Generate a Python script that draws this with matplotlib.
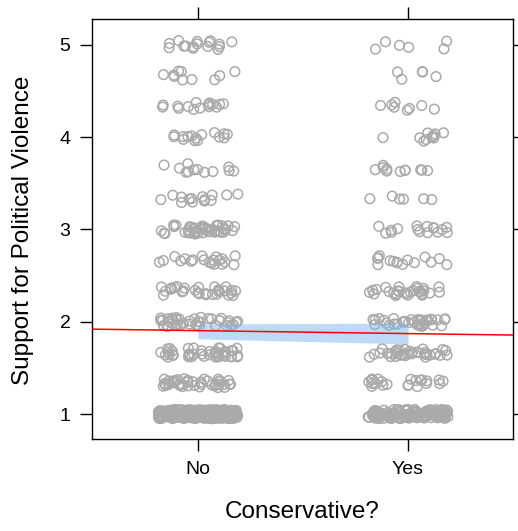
import numpy as np
import matplotlib
matplotlib.use("Agg")
import matplotlib.pyplot as plt

plt.rcParams['font.family'] = ['Liberation Sans', 'DejaVu Sans']

# response levels (scale averaged over three items) and how many respondents sit at each
levels = [1, 4/3, 5/3, 2, 7/3, 8/3, 3, 10/3, 11/3, 4, 13/3, 14/3, 5]
counts_no = [250, 40, 45, 40, 30, 20, 45, 14, 12, 15, 15, 10, 16]
counts_yes = [130, 22, 35, 35, 28, 15, 16, 6, 11, 10, 8, 5, 6]

groups = ['No', 'Yes']
fit = [1.904, 1.872]
ci_lower = [1.815, 1.76]
ci_upper = [1.976, 1.986]

fig = plt.figure(figsize=(5.18, 5.31), dpi=100)
ax = fig.add_axes([92/518, 1 - 439/531, 421/518, 420/531])

rng = np.random.default_rng(7)
for gi, counts in enumerate([counts_no, counts_yes]):
    ys = np.repeat(levels, counts)
    xs = gi + 1 + rng.uniform(-0.19, 0.19, len(ys))
    ys = ys + rng.uniform(-0.05, 0.05, len(ys))
    ax.scatter(xs, ys, s=48, facecolors='none', edgecolors='#aaaaaa',
               linewidths=1.1, zorder=2)

xpos = np.array([1, 2])
ax.fill_between(xpos, ci_lower, ci_upper, color='#7fb6f0', alpha=0.5,
                linewidth=0, zorder=3)

# fitted line carried across the panel
slope = fit[1] - fit[0]
xl = np.array([0.5, 2.5])
ax.plot(xl, fit[0] + slope * (xl - 1), color='red', lw=1.1, zorder=4)

ax.set_xlim(0.495, 2.5)
ax.set_ylim(0.73, 5.28)
ax.set_xticks(xpos)
ax.set_xticklabels(groups)
ax.set_yticks([1, 2, 3, 4, 5])
ax.tick_params(direction='out', length=8.5, width=1.0, labelsize=14, pad=7,
               top=True, right=True, labeltop=False, labelright=False,
               colors='black')
for s in ax.spines.values():
    s.set_linewidth(1.0)

fig.text(23/518, 1 - 230/531, 'Support for Political Violence', rotation=90,
         ha='center', va='center', fontsize=17.5)
fig.text(302/518, 1 - 512/531, 'Conservative?', ha='center', va='center',
         fontsize=17.5)

fig.savefig('out.png', dpi=100)
